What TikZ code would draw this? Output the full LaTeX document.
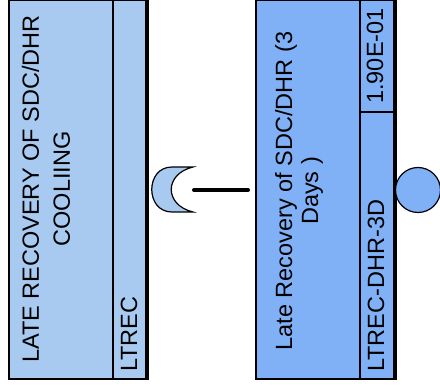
\documentclass[tikz,border=0pt]{standalone}
\usepackage{fontspec}
\setmainfont{Liberation Sans}
\usepackage{tikz}
\definecolor{paleblue}{RGB}{168,202,240}
\definecolor{midblue}{RGB}{128,176,245}

\begin{document}
\begin{tikzpicture}[x=1pt,y=-1pt,
		cell/.style={draw,line width=1.2pt},
		edge/.style={line width=3.5pt},
		lbl/.style={rotate=90,inner sep=0pt,font=\fontsize{23.5}{31}\selectfont}]
	\useasboundingbox (0,0) rectangle (440,390);
	% left event
	\path[cell,fill=paleblue] (9,0) rectangle (147,379);
	\draw[cell] (113,0) -- (113,379);
	\draw[edge] (147,0) -- (147,380);
	\path (46,189) node(lt)[lbl,align=center]{LATE RECOVERY OF SDC/DHR\\COOLIING}
		(137,372) node(lid)[lbl,anchor=base west]{LTREC};
	% transfer gate
	\path[cell,fill=paleblue] (193,167) -- (172,167) .. controls (145,167) and (145,212) .. (172,212)
		-- (193,212) .. controls (164,205) and (164,174) .. (193,167) -- cycle;
	\coordinate (gt) at (194,190);
	\coordinate (be) at (248,190);
	\draw[line width=4pt,line cap=round] (gt) -- (be);
	% basic event
	\path[cell,fill=midblue] (256,0) rectangle (395,379);
	\draw[cell] (360,0) -- (360,379) (360,112) -- (395,112);
	\draw[edge] (395,0) -- (395,380);
	\path (299,191) node(rt)[lbl,align=center,font=\fontsize{23.5}{26}\selectfont]{Late Recovery of SDC/DHR (3\\Days )}
		(384,372) node(rid)[lbl,anchor=base west]{LTREC-DHR-3D}
		(383,56) node(rp)[lbl,anchor=base]{1.90E-01};
	\node(bc)[circle,cell,fill=midblue,minimum size=45pt,inner sep=0pt] at (418,190) {};
\end{tikzpicture}
\end{document}
